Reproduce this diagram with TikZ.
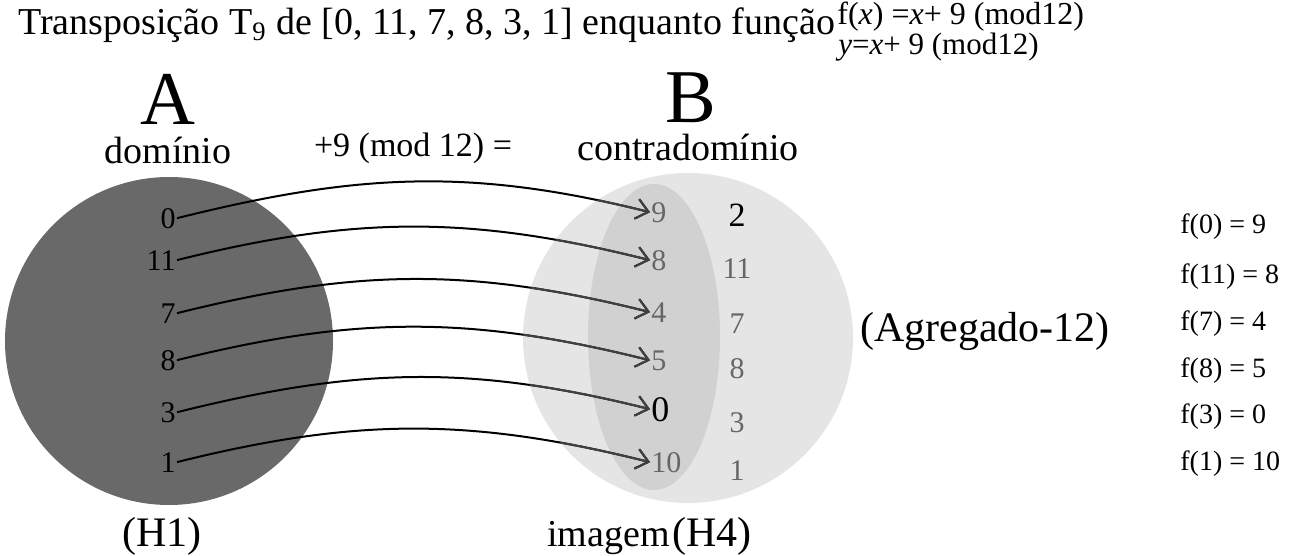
\documentclass[tikz,border=0pt]{standalone}
\usepackage{fontspec}
\setmainfont{Liberation Serif}
\usetikzlibrary{positioning, arrows.meta}

\definecolor{dominio}{gray}{0.41}
\definecolor{contra}{gray}{0.90}
\definecolor{imagem}{gray}{0.82}
\definecolor{numgray}{gray}{0.40}
\definecolor{seta}{gray}{0.25}

\tikzset{
  num/.style={inner sep=0.5pt, font=\fontsize{15}{15}\selectfont},
  dom/.style={num, anchor=base east},
  img/.style={num, text=numgray, anchor=base west},
  resto/.style={num, text=numgray, anchor=base},
  mapa/.style={line width=1pt, -{Straight Barb[length=6pt,width=10pt]}, out=14, in=166},
  rotulo/.style={inner sep=0pt, anchor=base, font=\fontsize{19}{19}\selectfont},
  letra/.style={inner sep=0pt, anchor=base, font=\fontsize{38}{38}\selectfont},
  lista/.style={inner sep=0pt, anchor=base west, font=\fontsize{14}{14}\selectfont},
}

\begin{document}
\begin{tikzpicture}[x=0.5pt, y=-0.5pt]
  \useasboundingbox (0,0) rectangle (1296,556);
  % titulo e formulas
  \node[inner sep=0pt, anchor=base west, font=\fontsize{19}{19}\selectfont] (titulo) at (18,35)
    {Transposição T\textsubscript{9} de [0, 11, 7, 8, 3, 1] enquanto função};
  \node[lista, font=\fontsize{16}{16}\selectfont] (fx) at (837,25) {f(\textit{x}) =\textit{x}+ 9 (mod12)};
  \node[lista, font=\fontsize{15.5}{15.5}\selectfont] (fy) at (838,55) {\textit{y}=\textit{x}+ 9 (mod12)};

  % conjuntos
  \fill[dominio] (169,341) circle (164);
  \fill[contra] (688,338) circle (165);
  \fill[imagem] (654,337) ellipse (66 and 153);

  \node[letra] (A) at (168,125) {A};
  \node[letra] (B) at (691,123) {B};
  \node[rotulo, text height=0.72em] (dom) at (168,163) {domínio};
  \node[rotulo, text height=0.72em] (contradom) at (688,161) {contradomínio};
  \node[rotulo, font=\fontsize{17}{17}\selectfont] (regra) at (413,156) {+9 (mod 12) =};
  \node[rotulo, font=\fontsize{21}{21}\selectfont] (agregado) at (985,341) {(Agregado-12)};
  \node[rotulo, font=\fontsize{21}{21}\selectfont] (H1) at (162,546) {(H1)};
  \node[rotulo, anchor=base east] (imag) at (670,546) {imagem};
  \node[rotulo, font=\fontsize{21}{21}\selectfont, base right=1pt of imag] (H4) {(H4)};

  % elementos
  \node[dom] (d0) at (177,228) {0};
  \node[dom] (d11) at (177,270) {11};
  \node[dom] (d7) at (177,323) {7};
  \node[dom] (d8) at (177,370) {8};
  \node[dom] (d3) at (177,422) {3};
  \node[dom] (d1) at (177,472) {1};

  \node[img] (i9) at (650,222) {9};
  \node[img] (i8) at (650,270) {8};
  \node[img] (i4) at (650,322) {4};
  \node[img] (i5) at (650,370) {5};
  \node[img, text=black, font=\fontsize{18}{18}\selectfont] (i0) at (650,421) {0};
  \node[img] (i10) at (650,472) {10};

  \node[resto, text=black, font=\fontsize{17}{17}\selectfont] (c2) at (737,227) {2};
  \node[resto] (c11) at (737,278) {11};
  \node[resto] (c7) at (737,333) {7};
  \node[resto] (c8) at (737,378) {8};
  \node[resto] (c3) at (737,432) {3};
  \node[resto] (c1) at (737,480) {1};

  % setas
  \foreach \a/\b in {0/9, 11/8, 7/4, 8/5, 3/0, 1/10}
    \draw[mapa] (d\a.east) to (i\b.west);
  \begin{scope}
    \clip (688,338) circle (165);
    \foreach \a/\b in {0/9, 11/8, 7/4, 8/5, 3/0, 1/10}
      \draw[mapa, seta] (d\a.east) to (i\b.west);
  \end{scope}

  \foreach \a/\b/\y [count=\i] in {0/9/233, 11/8/283, 7/4/330, 8/5/377, 3/0/423, 1/10/470}
    \node[lista] (f\i) at (1180,\y) {f(\a) = \b};
\end{tikzpicture}
\end{document}
